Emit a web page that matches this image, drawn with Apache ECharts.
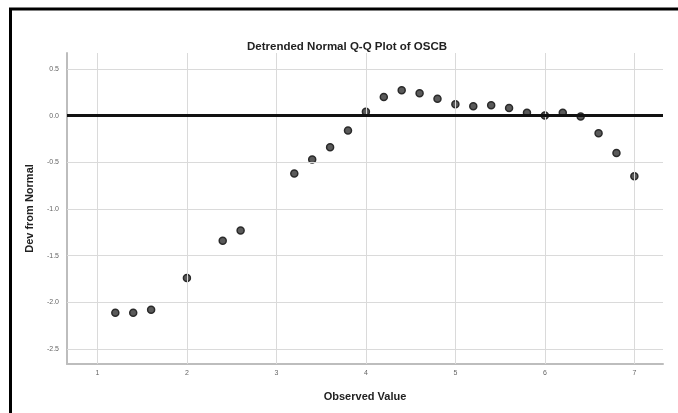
<!DOCTYPE html>
<html>
<head>
<meta charset="utf-8">
<script src="https://cdn.jsdelivr.net/npm/echarts@6/dist/echarts.min.js"></script>
<style>
  html, body { margin: 0; padding: 0; background: #fff; }
  #chart { width: 678px; height: 413px; }
</style>
</head>
<body>
<div id="chart"></div>
<script>
const observed = [1.2, 1.4, 1.6, 2.0, 2.4, 2.6, 3.2, 3.4, 3.6, 3.8, 4.0, 4.2, 4.4,
  4.6, 4.8, 5.0, 5.2, 5.4, 5.6, 5.8, 6.0, 6.2, 6.4, 6.6, 6.8, 7.0];
const devFromNormal = [-2.11, -2.11, -2.08, -1.74, -1.34, -1.23, -0.62, -0.47, -0.34,
  -0.16, 0.04, 0.20, 0.27, 0.24, 0.18, 0.12, 0.10, 0.11, 0.08, 0.03, 0.00, 0.03,
  -0.01, -0.19, -0.40, -0.65];

const xTicks = [1, 2, 3, 4, 5, 6, 7];
const yTicks = [-2.5, -2.0, -1.5, -1.0, -0.5, 0.0, 0.5];

const chart = echarts.init(document.getElementById('chart'));

const gridColor = '#dadada';

const option = {
  animation: false,
  backgroundColor: '#fff',
  title: {
    text: 'Detrended Normal Q-Q Plot of OSCB',
    left: 342,
    textAlign: 'center',
    top: 36,
    textStyle: { fontFamily: 'Liberation Sans', fontSize: 11.5, fontWeight: 'bold', color: '#222' }
  },
  graphic: [
    {
      type: 'rect',
      shape: { x: 10.5, y: 9, width: 1000, height: 1000 },
      style: { fill: null, stroke: '#000', lineWidth: 3 },
      silent: true
    }
  ],
  grid: { left: 67, right: 15, top: 53, bottom: 49 },
  xAxis: {
    type: 'value',
    min: 0.66,
    max: 7.32,
    name: 'Observed Value',
    nameLocation: 'middle',
    nameGap: 27,
    nameTextStyle: { fontFamily: 'Liberation Sans', fontSize: 11, fontWeight: 'bold', color: '#222' },
    axisLine: { show: true, onZero: false, lineStyle: { color: '#bdbdbd', width: 2 } },
    axisTick: { show: false },
    splitLine: { show: false },
    axisLabel: {
      customValues: xTicks,
      fontFamily: 'Liberation Sans',
      fontSize: 7,
      color: '#666',
      margin: 6
    }
  },
  yAxis: {
    type: 'value',
    min: -2.66,
    max: 0.67,
    name: 'Dev from Normal',
    nameLocation: 'middle',
    nameGap: 32,
    nameTextStyle: { fontFamily: 'Liberation Sans', fontSize: 11, fontWeight: 'bold', color: '#222' },
    axisLine: { show: true, onZero: false, lineStyle: { color: '#bdbdbd', width: 2 } },
    axisTick: { show: false },
    splitLine: { show: false },
    axisLabel: {
      customValues: yTicks,
      formatter: (v) => v.toFixed(1),
      fontFamily: 'Liberation Sans',
      fontSize: 7,
      color: '#666',
      margin: 8
    }
  },
  series: [
    {
      // grid lines on the tick positions (0 is covered by the reference line)
      type: 'scatter',
      data: [],
      silent: true,
      z: 1,
      markLine: {
        silent: true,
        symbol: 'none',
        label: { show: false },
        lineStyle: { color: gridColor, width: 1, type: 'solid' },
        data: xTicks.map((v) => ({ xAxis: v }))
          .concat(yTicks.filter((v) => v !== 0).map((v) => ({ yAxis: v })))
      }
    },
    {
      type: 'scatter',
      data: observed.map((x, i) => [x, devFromNormal[i]]),
      symbol: 'circle',
      symbolSize: 7,
      z: 3,
      itemStyle: { color: '#5a5a5a', borderColor: '#2a2a2a', borderWidth: 1.5, opacity: 1 },
      markLine: {
        silent: true,
        symbol: 'none',
        label: { show: false },
        lineStyle: { color: '#111', width: 3, type: 'solid' },
        data: [{ yAxis: 0 }]
      }
    }
  ]
};

chart.setOption(option);
</script>
</body>
</html>
